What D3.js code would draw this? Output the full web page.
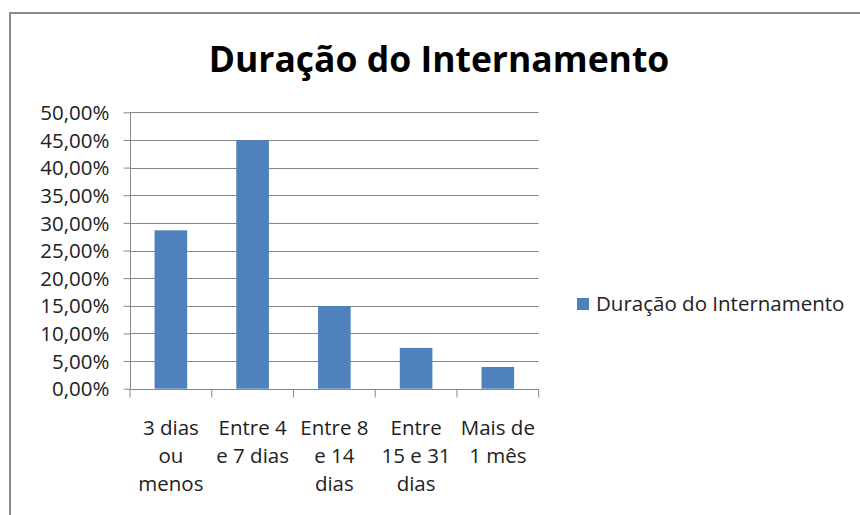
<!DOCTYPE html>
<html><head><meta charset="utf-8">
<script src="https://cdn.jsdelivr.net/npm/d3@7"></script>
<style>body{margin:0;background:#fff;} svg{display:block;}</style>
</head><body>
<script>
const categories = [["3 dias","ou","menos"],["Entre 4","e 7 dias"],["Entre 8","e 14","dias"],["Entre","15 e 31","dias"],["Mais de","1 mês"]];
const values = [0.2865, 0.4495, 0.1495, 0.0738, 0.0393];
const yTicks = [0,0.05,0.10,0.15,0.20,0.25,0.30,0.35,0.40,0.45,0.50];
const title = "Duração do Internamento";
const seriesName = "Duração do Internamento";

const W=860,H=515;
const svg=d3.select("body").append("svg").attr("width",W).attr("height",H);
const font="'Open Sans', sans-serif";
// frame
svg.append("path").attr("d",`M10,${H+5} V13 H${W+5}`).attr("fill","none").attr("stroke","#8a8a8a").attr("stroke-width",2);

const x0=130,x1=538.7,yTop=112.3,yBot=388.7;
const xb=d3.scaleBand().domain(d3.range(categories.length)).range([x0,x1]);
const y=d3.scaleLinear().domain([0,0.5]).range([yBot,yTop]);

// gridlines
svg.append("g").selectAll("line").data(yTicks.slice(1)).join("line")
 .attr("x1",x0).attr("x2",x1).attr("y1",d=>Math.round(y(d))+0.5).attr("y2",d=>Math.round(y(d))+0.5)
 .attr("stroke","#878787").attr("stroke-width",1);

// bars
svg.append("g").selectAll("rect").data(values).join("rect")
 .attr("x",(d,i)=>xb(i)+xb.bandwidth()/2-16.3).attr("width",32.6)
 .attr("y",d=>y(d)).attr("height",d=>yBot-y(d)).attr("fill","#4f81bd");

// y axis
const ya=d3.axisLeft(y).tickValues(yTicks).tickSize(7).tickPadding(14)
 .tickFormat(d=>(d*100).toFixed(2).replace(".",",")+"%");
const gy=svg.append("g").attr("transform",`translate(${x0+0.5},0)`).call(ya);
gy.select(".domain").attr("stroke","#878787").attr("d",`M0,${yTop}V${yBot}`);
gy.selectAll(".tick line").attr("stroke","#878787");
gy.selectAll(".tick text").attr("font-family",font).attr("font-size",20.5).attr("fill","#222").attr("dy","0.35em");

// x axis
const gx=svg.append("g").attr("transform",`translate(0,${Math.round(yBot)+0.5})`);
gx.append("line").attr("x1",x0).attr("x2",x1).attr("stroke","#878787");
gx.selectAll(".t").data(d3.range(categories.length+1)).join("line")
 .attr("x1",i=>x0+i*xb.step()).attr("x2",i=>x0+i*xb.step()).attr("y1",0).attr("y2",8).attr("stroke","#878787");
gx.selectAll("text").data(categories).join("text")
 .attr("font-family",font).attr("font-size",20.5).attr("fill","#222").attr("text-anchor","middle")
 .each(function(lines,i){
   const t=d3.select(this);
   lines.forEach((l,j)=>t.append("tspan").attr("x",xb(i)+xb.bandwidth()/2).attr("y",45+j*28).text(l));
 });

// title
svg.append("text").attr("x",439).attr("y",72).attr("text-anchor","middle")
 .attr("font-family",font).attr("font-weight","bold").attr("font-size",35.5).attr("fill","#000").text(title);

// legend
svg.append("rect").attr("x",577).attr("y",298).attr("width",12).attr("height",12).attr("fill","#4f81bd");
svg.append("text").attr("x",596).attr("y",311).attr("font-family",font).attr("font-size",20.5).attr("fill","#222").text(seriesName);
</script>
</body></html>
